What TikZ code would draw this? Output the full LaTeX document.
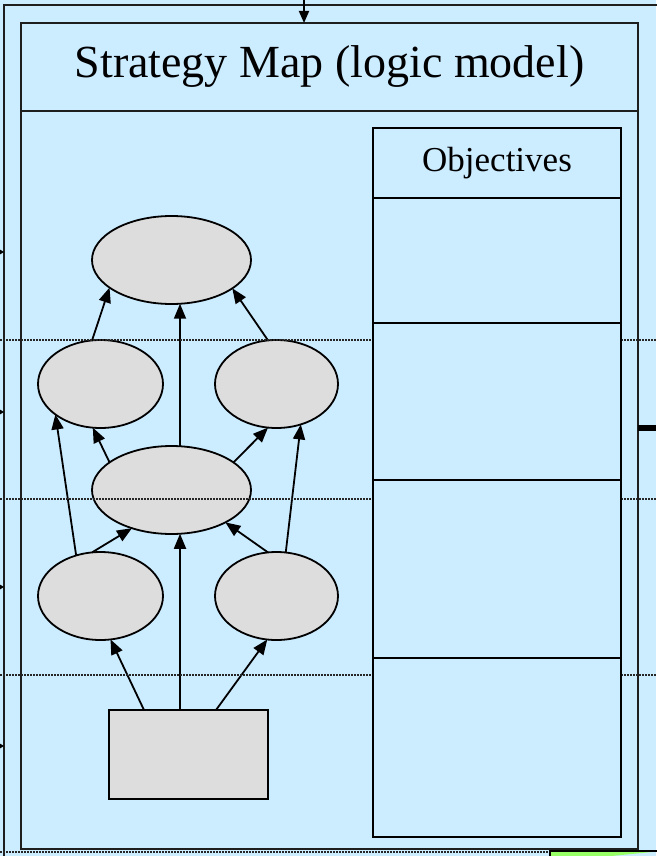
\documentclass[tikz,border=0pt]{standalone}
\usepackage{fontspec}
\setmainfont{Liberation Serif}
\usetikzlibrary{shapes.geometric,arrows.meta}
\definecolor{paneblue}{RGB}{204,236,255}
\definecolor{bubblegray}{RGB}{221,221,221}
\definecolor{framegray}{RGB}{30,30,30}
\definecolor{tabgreen}{RGB}{153,255,102}
\tikzset{
  frameline/.style={draw=framegray,line width=2.2pt},
  panel/.style={rectangle,draw=framegray,line width=2pt,fill=paneblue,inner sep=0pt,outer sep=0pt},
  goal/.style={ellipse,draw=black,line width=1.8pt,fill=bubblegray,inner sep=0pt,outer sep=0pt,minimum height=88pt},
  source/.style={rectangle,draw=black,line width=1.8pt,fill=bubblegray,inner sep=0pt,outer sep=0pt},
  arr/.style={draw=black,line width=1.8pt,-{Triangle[length=15pt,width=12pt]}},
  tick/.style={draw=black,line width=1.2pt,-{Triangle[length=4pt,width=4.5pt]}},
  band/.style={draw=black!85,line width=1.2pt,dash pattern=on 1.5pt off 1.5pt},
  objrow/.style={rectangle,draw=black,line width=1.8pt,fill=paneblue,inner sep=0pt,outer sep=0pt,minimum width=248pt}
}
\begin{document}
\begin{tikzpicture}[x=1pt,y=-1pt]
\useasboundingbox (0,0) rectangle (656,856);
\fill[paneblue] (0,0) rectangle (656,856);

% outer frame, running off the page on the right and bottom
\draw[frameline] (4,860) -- (4,5) -- (660,5);

% inner container and its title bar
\node[panel,minimum width=617pt,minimum height=826pt] (frame) at (329.5,436) {};
\node[panel,minimum width=617pt,minimum height=88pt,font=\fontsize{46}{50}\selectfont] (title) at (329.5,67) {Strategy Map (logic model)};

% incoming arrow at the top
\coordinate (topin) at (304,0);
\draw[arr,-{Triangle[length=12pt,width=10pt]}] (topin) -- (topin |- title.north);

% small incoming ticks on the left edge
\foreach \k/\yy in {1/252,2/412,3/587,4/746}{
  \coordinate (lin\k) at (0,\yy);
  \coordinate (lout\k) at (4,\yy);
  \draw[tick] (lin\k) -- (lout\k);
}

% thick stub on the right edge
\coordinate (rs) at (638,428);
\coordinate (re) at (656,428);
\draw[line width=6pt] (rs) -- (re);

% logic model bubbles
\node[goal,minimum width=159pt] (top) at (171.5,260) {};
\node[goal,minimum width=125pt] (midL) at (100.5,384) {};
\node[goal,minimum width=123pt] (midR) at (276.5,384) {};
\node[goal,minimum width=159pt] (cen) at (171.5,490) {};
\node[goal,minimum width=125pt] (lowL) at (100.5,596) {};
\node[goal,minimum width=123pt] (lowR) at (276.5,596) {};
\node[source,minimum width=159pt,minimum height=89pt] (base) at (188.5,754.5) {};

% links between bubbles
\draw[arr] (midL.101) -- (top.204);
\draw[arr] (cen.79) -- (top.281);
\draw[arr] (midR.101) -- (top.335);
\draw[arr] (lowL.121) -- (midL.214);
\draw[arr] (cen.156) -- (midL.260);
\draw[arr] (cen.24) -- (midR.259);
\draw[arr] (lowR.78) -- (midR.301);
\draw[arr] (lowL.101) -- (cen.224);
\draw[arr] (lowR.101) -- (cen.329);
\draw[arr] ([xshift=-8.5pt]base.north) -- (cen.281);
\draw[arr] ([xshift=-44.5pt]base.north) -- (lowL.283);
\draw[arr] ([xshift=27.5pt]base.north) -- (lowR.258);

% dotted band separators
\foreach \k/\yy in {1/340,2/499,3/675}{
  \coordinate (bs\k) at (0,\yy);
  \coordinate (be\k) at (656,\yy);
  \draw[band] (bs\k) -- (be\k);
}
\coordinate (bs4) at (0,852);
\coordinate (be4) at (550,852);
\draw[band] (bs4) -- (be4);

% objectives column
\node[objrow,minimum height=70pt,font=\fontsize{35}{39}\selectfont] (objhead) at (497,163) {Objectives};
\node[objrow,minimum height=125pt] (obj1) at (497,260.5) {};
\node[objrow,minimum height=157pt] (obj2) at (497,401.5) {};
\node[objrow,minimum height=178pt] (obj3) at (497,569) {};
\node[objrow,minimum height=179pt] (obj4) at (497,747.5) {};

% green tab at the bottom right
\filldraw[fill=tabgreen,draw=black,line width=1.6pt] (550,862) -- (550,851) -- (662,851);
\end{tikzpicture}
\end{document}
